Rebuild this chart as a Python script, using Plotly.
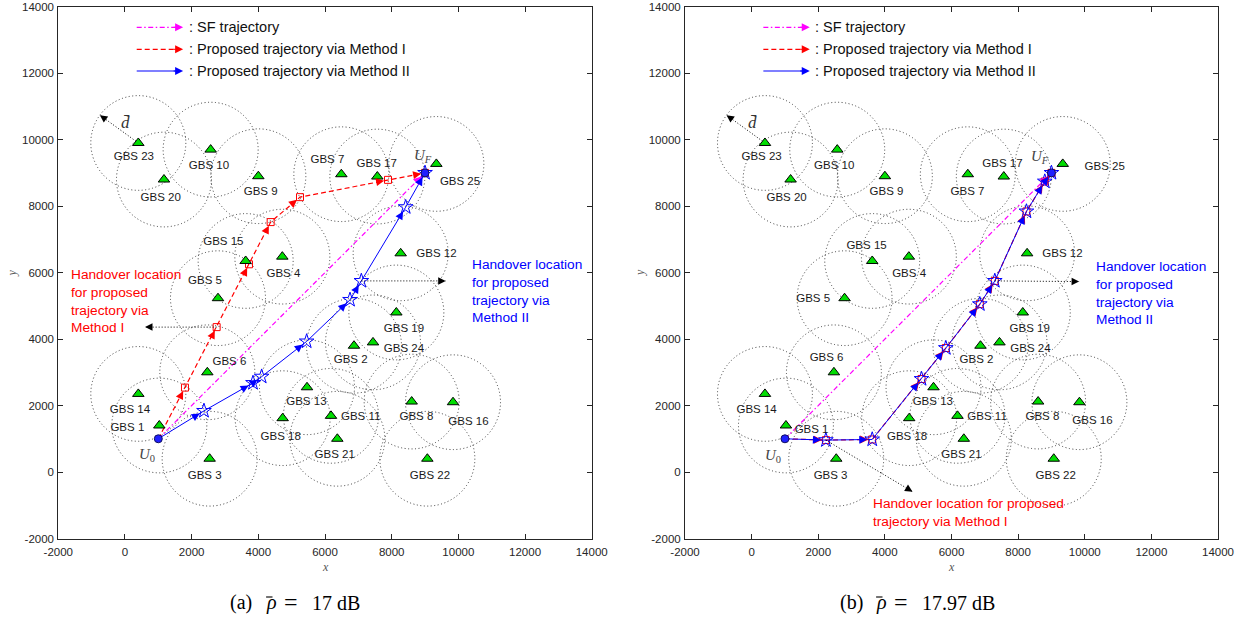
import math
import plotly.graph_objects as go

# ---------------- data ----------------
gbs_id = list(range(1, 26))
gbs_x = [1030, 6870, 2540, 4720, 2790, 2470, 6490, 8600, 4000, 2570,
         6180, 8270, 5460, 400, 3620, 9840, 7570, 4730, 8140, 1170,
         6370, 9070, 400, 7440, 9340]
gbs_y = [1400, 3800, 400, 6480, 5230, 3000, 8960, 2120, 8900, 9700,
         1690, 6580, 2550, 2350, 6350, 2100, 8890, 1620, 4800, 8800,
         1000, 400, 9900, 3900, 9270]
d_bar = 1425                      # coverage radius

u0_xy = [1000, 1000]
uf_xy = [9000, 9000]

sf_x = [1000, 9000]
sf_y = [1000, 9000]

a_m1_x = [1000, 1800, 2750, 3720, 4370, 5250, 7890, 9000]
a_m1_y = [1000, 2540, 4360, 6250, 7520, 8270, 8790, 9000]
a_m2_x = [1000, 2370, 3840, 4100, 5450, 6750, 7090, 8420, 9000]
a_m2_y = [1000, 1840, 2680, 2870, 3930, 5180, 5750, 7970, 9000]

b_m1_x = [1000, 2230, 3620, 5100, 5830, 6850, 7300, 8250, 8800, 9000]
b_m1_y = [1000, 960, 980, 2800, 3730, 5050, 5750, 7840, 8740, 9000]
b_m2_x = [1000, 2230, 3620, 5100, 5830, 6850, 7300, 8250, 8800, 9000]
b_m2_y = [1000, 960, 980, 2800, 3730, 5050, 5750, 7840, 8740, 9000]

panel_tags = ["(a)", "(b)"]
snr_db = ["17", "17.97"]
legend_labels = [": SF trajectory",
                 ": Proposed trajectory via Method I",
                 ": Proposed trajectory via Method II"]
tick_vals = list(range(-2000, 14001, 2000))
tick_text = [str(v) for v in tick_vals]

# ---------------- layout helpers ----------------
W, H = 1242, 621


def fx(p):                        # window pixel -> paper x
    return p / W


def fy(p):                        # window pixel -> paper y
    return 1 - p / H


XDOM = [[fx(58.3), fx(591.7)], [fx(685), fx(1218)]]
YDOM = [fy(538.5), fy(6.7)]
PX_PER_X = (591.7 - 58.3) / 16000
PX_PER_Y = (538.5 - 6.7) / 16000

TXT = "Liberation Sans, Arial, sans-serif"
SERIF = "Liberation Serif, Times New Roman, serif"
DARK = "#262626"

# label placements (text centres, in axis units) per panel
label_pos = [
    {1: (72, 1308), 2: (6771, 3354), 3: (2391, -114), 4: (4752, 5962), 5: (2400, 5751),
     6: (3132, 3294), 7: (6072, 9370), 8: (8742, 1651), 9: (4071, 8407), 10: (2520, 9189),
     11: (7071, 1651), 12: (9342, 6563), 13: (5442, 2091), 14: (150, 1871), 15: (2952, 6903),
     16: (10302, 1501), 17: (7551, 9271), 18: (4671, 1038), 19: (8370, 4307), 20: (1071, 8239),
     21: (6291, 496), 22: (9150, -114), 23: (267, 9460), 24: (8370, 3706), 25: (10050, 8708)},
    {1: (1800, 1269), 2: (6750, 3354), 3: (2370, -114), 4: (4728, 5962), 5: (1848, 5210),
     6: (2250, 3426), 7: (6480, 8407), 8: (8730, 1651), 9: (4050, 8407), 10: (2478, 9189),
     11: (7068, 1651), 12: (9330, 6563), 13: (5439, 2091), 14: (150, 1871), 15: (3450, 6804),
     16: (10230, 1540), 17: (7530, 9271), 18: (4668, 1038), 19: (8349, 4307), 20: (1050, 8239),
     21: (6300, 496), 22: (9129, -114), 23: (300, 9460), 24: (8370, 3706), 25: (10599, 9160)},
]
u_label_pos = [[(672, 517), (8940, 9511)], [(648, 487), (8649, 9472)]]

# callouts: (series, handover index, text, text top-left, pointer target)
callouts = [
    [("m1", 2, "Handover location<br>for proposed<br>trajectory via<br>Method I", (-1680, 6233), (600, 4360)),
     ("m2", 6, "Handover location<br>for proposed<br>trajectory via<br>Method II", (10341, 6524), (9620, 5750))],
    [("m2", 6, "Handover location<br>for proposed<br>trajectory via<br>Method II", (10278, 6482), (9830, 5730)),
     ("m1", 1, "Handover location for proposed<br>trajectory via Method I", (3570, -647), (4830, -590))],
]
caption_left = [228.3, 838.3]     # window px where each caption starts

COL = {"sf": "#ff00ff", "m1": "#ff0000", "m2": "#0000ff"}
DASH = {"sf": "5px,2.5px,1.5px,2.5px", "m1": "5px,3px", "m2": "solid"}

fig = go.Figure()


def head(xr, yr, x0, y0, x1, y1, color, L=8, standoff=0, size=1.6, width=1):
    dxp = (x1 - x0) * PX_PER_X
    dyp = -(y1 - y0) * PX_PER_Y
    n = math.hypot(dxp, dyp) or 1.0
    fig.add_annotation(x=x1, y=y1, xref=xr, yref=yr,
                       ax=-dxp / n * (L + standoff), ay=-dyp / n * (L + standoff),
                       axref="pixel", ayref="pixel", showarrow=True, arrowhead=2,
                       arrowsize=size, arrowwidth=width, arrowcolor=color,
                       standoff=standoff, text="")


def paper_text(px, py, text, font, xanchor="center", textangle=0):
    fig.add_annotation(x=fx(px), y=fy(py), xref="paper", yref="paper", text=text,
                       showarrow=False, xanchor=xanchor, yanchor="middle",
                       textangle=textangle, font=font)


panels = [
    dict(m1=(a_m1_x, a_m1_y), m2=(a_m2_x, a_m2_y)),
    dict(m1=(b_m1_x, b_m1_y), m2=(b_m2_x, b_m2_y)),
]

for p, pan in enumerate(panels):
    xa = "x" if p == 0 else "x2"
    ya = "y" if p == 0 else "y2"
    xdom = "x domain" if p == 0 else "x2 domain"
    ydom = "y domain" if p == 0 else "y2 domain"

    # coverage circles
    for gx, gy in zip(gbs_x, gbs_y):
        fig.add_shape(type="circle", xref=xa, yref=ya,
                      x0=gx - d_bar, x1=gx + d_bar, y0=gy - d_bar, y1=gy + d_bar,
                      line=dict(color="#3a3a3a", width=1, dash="1px,2.5px"), layer="below")

    # d-bar radius arrow from GBS 23
    k = gbs_id.index(23)
    ang = math.radians(144)
    tx = gbs_x[k] + d_bar * math.cos(ang)
    ty = gbs_y[k] + d_bar * math.sin(ang)
    fig.add_trace(go.Scatter(x=[gbs_x[k], tx], y=[gbs_y[k], ty], mode="lines",
                             line=dict(color="black", width=1, dash="1px,2px"),
                             xaxis=xa, yaxis=ya, hoverinfo="skip"))
    head(xa, ya, gbs_x[k], gbs_y[k], tx, ty, "black", L=8, size=1.5)
    fig.add_annotation(x=gbs_x[k] - 380, y=gbs_y[k] + 610, xref=xa, yref=ya,
                       text="<i>d̄</i>", showarrow=False,
                       font=dict(family=SERIF, size=17, color="#333333"))

    # SF trajectory
    fig.add_trace(go.Scatter(x=sf_x, y=sf_y, mode="lines",
                             line=dict(color=COL["sf"], width=1.2, dash=DASH["sf"]),
                             xaxis=xa, yaxis=ya, hoverinfo="skip"))
    head(xa, ya, sf_x[-2], sf_y[-2], sf_x[-1], sf_y[-1], COL["sf"], standoff=5)

    # proposed trajectories
    for key, sym, msz, lw in (("m1", "square-open", 7, 1.2), ("m2", "star-open", 11, 1)):
        xs, ys = pan[key]
        fig.add_trace(go.Scatter(x=xs, y=ys, mode="lines",
                                 line=dict(color=COL[key], width=lw, dash=DASH[key]),
                                 xaxis=xa, yaxis=ya, hoverinfo="skip"))
        fig.add_trace(go.Scatter(x=xs[1:], y=ys[1:], mode="markers",
                                 marker=dict(symbol=sym, size=msz, color=COL[key],
                                             line=dict(width=1, color=COL[key])),
                                 xaxis=xa, yaxis=ya, hoverinfo="skip"))
        for i in range(1, len(xs)):
            head(xa, ya, xs[i - 1], ys[i - 1], xs[i], ys[i], COL[key],
                 standoff=4 if key == "m1" else 5)

    # GBS triangles
    fig.add_trace(go.Scatter(x=gbs_x, y=gbs_y, mode="markers",
                             marker=dict(symbol="triangle-up", size=10, color="#00dd00",
                                         line=dict(color="black", width=1)),
                             xaxis=xa, yaxis=ya, hoverinfo="skip"))
    # GBS labels
    lp = label_pos[p]
    fig.add_trace(go.Scatter(x=[lp[g][0] for g in gbs_id], y=[lp[g][1] for g in gbs_id],
                             mode="text", text=[f"GBS {g}" for g in gbs_id],
                             textposition="middle center",
                             textfont=dict(family=TXT, size=11.5, color="#1a1a1a"),
                             xaxis=xa, yaxis=ya, hoverinfo="skip"))

    # start / end points
    fig.add_trace(go.Scatter(x=[u0_xy[0], uf_xy[0]], y=[u0_xy[1], uf_xy[1]], mode="markers",
                             marker=dict(symbol="circle", size=8, color="#1f1fff",
                                         line=dict(color="#101060", width=1)),
                             xaxis=xa, yaxis=ya, hoverinfo="skip"))
    for (lx, ly), txt in zip(u_label_pos[p], ["<i>U</i><sub>0</sub>", "<i>U</i><sub><i>F</i></sub>"]):
        fig.add_annotation(x=lx, y=ly, xref=xa, yref=ya, text=txt, showarrow=False,
                           xanchor="center", yanchor="middle",
                           font=dict(family=SERIF, size=15, color="#444444"))

    # handover callouts
    for key, idx, txt, (tx0, ty0), (px1, py1) in callouts[p]:
        xs, ys = pan[key]
        hx, hy = xs[idx], ys[idx]
        fig.add_trace(go.Scatter(x=[hx, px1], y=[hy, py1], mode="lines",
                                 line=dict(color="black", width=1, dash="1px,2px"),
                                 xaxis=xa, yaxis=ya, hoverinfo="skip"))
        head(xa, ya, hx, hy, px1, py1, "black", L=8, size=1.5)
        fig.add_annotation(x=tx0, y=ty0, xref=xa, yref=ya, text=txt, showarrow=False,
                           xanchor="left", yanchor="top", align="left",
                           font=dict(family=TXT, size=13.7, color=COL[key]))

    # in-axes legend
    ly_list = [0.9613, 0.9199, 0.8791]
    for key, lyv, lab in zip(("sf", "m1", "m2"), ly_list, legend_labels):
        fig.add_shape(type="line", xref=xdom, yref=ydom, x0=0.147, x1=0.225, y0=lyv, y1=lyv,
                      line=dict(color=COL[key], width=1.2, dash=DASH[key]))
        fig.add_annotation(x=0.234, y=lyv, xref=xdom, yref=ydom, ax=-11, ay=0,
                           axref="pixel", ayref="pixel", showarrow=True, arrowhead=2,
                           arrowsize=1.6, arrowwidth=1, arrowcolor=COL[key], text="")
        fig.add_annotation(x=0.2407, y=lyv, xref=xdom, yref=ydom, text=lab, showarrow=False,
                           xanchor="left", yanchor="middle",
                           font=dict(family=TXT, size=14.5, color="#111111"))

    # axis titles
    xc = (58.3 + 591.7) / 2 if p == 0 else (685 + 1218) / 2
    axis_font = dict(family=SERIF, size=12, color="#555555")
    paper_text(xc, 566.7, "<i>x</i>", axis_font)
    paper_text(11.7 if p == 0 else 639.3, 272.7, "<i>y</i>", axis_font, textangle=-90)

    # caption  "(a) rho-bar = 17 dB"
    c0 = caption_left[p]
    cap_font = dict(family=SERIF, size=20, color="black")
    paper_text(c0, 602.5, panel_tags[p], cap_font, xanchor="left")
    paper_text(c0 + 36.0, 602.5, "<i>\u03c1</i>", cap_font, xanchor="left")
    fig.add_shape(type="line", xref="paper", yref="paper",
                  x0=fx(c0 + 37.8), x1=fx(c0 + 44.2), y0=fy(597.0), y1=fy(597.0),
                  line=dict(color="black", width=1.1))
    paper_text(c0 + 62.5, 602.0, "=", dict(family=SERIF, size=24, color="black"))
    paper_text(c0 + 81.7, 602.5, f"{snr_db[p]} dB", cap_font, xanchor="left")

axis_common = dict(range=[-2000, 14000], tickmode="array", tickvals=tick_vals, ticktext=tick_text,
                   ticks="inside", ticklen=5, tickwidth=1, tickcolor=DARK,
                   showline=True, linecolor=DARK, linewidth=1, mirror="ticks",
                   showgrid=False, zeroline=False, automargin=False, fixedrange=True,
                   tickfont=dict(family=TXT, size=11.5, color=DARK))

fig.update_layout(
    width=W, height=H, margin=dict(l=0, r=0, t=0, b=0),
    paper_bgcolor="white", plot_bgcolor="white", showlegend=False,
    xaxis=dict(domain=XDOM[0], anchor="y", ticklabelstandoff=3, **axis_common),
    yaxis=dict(domain=YDOM, anchor="x", ticklabelstandoff=1, **axis_common),
    xaxis2=dict(domain=XDOM[1], anchor="y2", ticklabelstandoff=3, **axis_common),
    yaxis2=dict(domain=YDOM, anchor="x2", ticklabelstandoff=1, **axis_common),
)

fig.write_html("out.html", config={"displayModeBar": False},
               post_script="document.body.style.margin='0';document.body.style.overflow='hidden';")
